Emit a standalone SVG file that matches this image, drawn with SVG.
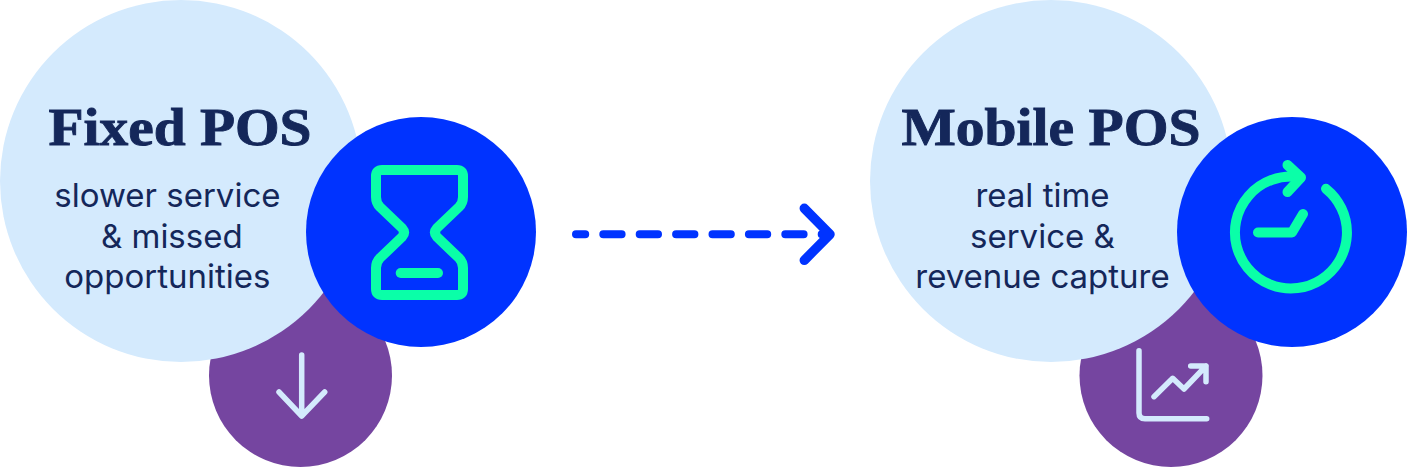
<svg xmlns="http://www.w3.org/2000/svg" width="1407" height="467" viewBox="0 0 1407 467">
<style>
.big{fill:#d4eafd}.blue{fill:#0033ff}.pur{fill:#7545a0}
.ic{fill:none;stroke:#0affa8;stroke-width:10;stroke-linecap:round;stroke-linejoin:round}
.sm{fill:none;stroke:#d4eafd;stroke-width:5.5;stroke-linecap:round;stroke-linejoin:round}
.t{font-family:"Liberation Serif",serif;font-weight:700;font-size:53px;fill:#14275a;stroke:#14275a;stroke-width:.9;text-anchor:middle}
.b{font-family:Inter,sans-serif;font-size:33px;fill:#14275a;text-anchor:middle}
.con{fill:none;stroke:#0033ff;stroke-linecap:round;stroke-linejoin:round}
</style>
<rect width="1407" height="467" fill="#fff"/>
<g id="fixed-pos">
<circle class="pur" cx="300.5" cy="375.5" r="91.5"/>
<path class="sm" d="M301.7 355V416M279 392L301.7 416L324.7 392"/>
<circle class="big" cx="181" cy="181" r="181"/>
<text class="t" x="180" y="145" textLength="263" lengthAdjust="spacingAndGlyphs">Fixed POS</text>
<text class="b" x="167.4" y="206.7">slower service</text>
<text class="b" x="171.8" y="247.7">&amp; missed</text>
<text class="b" x="167.4" y="287.7">opportunities</text>
<circle class="blue" cx="421" cy="232" r="115"/>
<path class="ic" d="M382 170H457Q463 170 463 176V197Q463 203 459 207L437 228Q433 232.5 437 237L459 258Q463 262 463 268V289Q463 295 457 295H382Q376 295 376 289V268Q376 262 380 258L402 237Q406 232.5 402 228L380 207Q376 203 376 197V176Q376 170 382 170Z"/>
<path class="ic" d="M400.7 273H438"/>
</g>
<g id="mobile-pos">
<circle class="pur" cx="1171" cy="375.5" r="91.5"/>
<path class="sm" d="M1139 350.7V413Q1139 418.7 1145 418.7H1206.7"/>
<path class="sm" d="M1154 396.7L1172.7 378.3L1184 389L1206 366M1190.7 366H1206V381.7"/>
<circle class="big" cx="1051" cy="181" r="181"/>
<text class="t" x="1051" y="145" textLength="299" lengthAdjust="spacingAndGlyphs">Mobile POS</text>
<text class="b" x="1042.5" y="206.7">real time</text>
<text class="b" x="1042.4" y="247.7">service &amp;</text>
<text class="b" x="1042.5" y="287.7">revenue capture</text>
<circle class="blue" cx="1292" cy="232" r="115"/>
<path class="ic" d="M1296 176.7A56 56 0 1 0 1326 188.8"/>
<path class="ic" d="M1287.5 165L1301 177.5L1287.5 192"/>
<path class="ic" d="M1258 232.5H1292L1303 214"/>
</g>
<g id="connectors">
<path class="con" stroke-width="8" stroke-dasharray="18.3 18.1" stroke-dashoffset="9.1" d="M576 234.3H826"/>
<path class="con" stroke-width="9.5" d="M804.3 208.3L830 234.3L804.3 260.3"/>
</g>
</svg>
